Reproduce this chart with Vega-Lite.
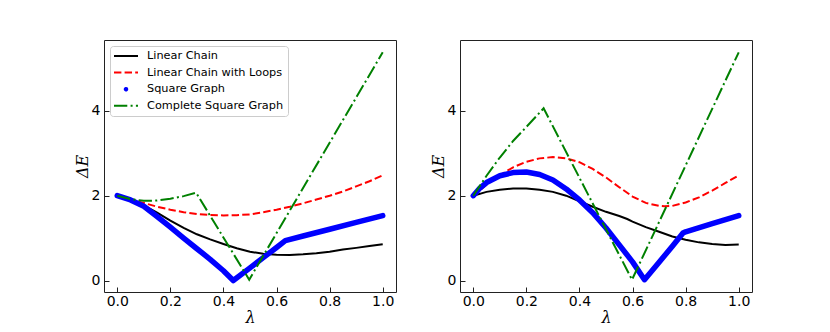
{
  "$schema": "https://vega.github.io/schema/vega-lite/v6.json",
  "padding": {"left": 73, "top": 39, "right": 0, "bottom": 0},
  "config": {
    "view": {"stroke": "#222", "strokeWidth": 1},
    "axis": {"domain": false, "grid": false, "tickSize": -5, "tickColor": "#222", "tickWidth": 1, "labelFont": "DejaVu Sans", "labelFontSize": 14, "labelColor": "#000", "labelFlush": false, "titleFont": "DejaVu Serif", "titleFontStyle": "italic", "titleFontWeight": "normal", "titleFontSize": 16, "titleColor": "#000"},
    "axisX": {"labelPadding": 7, "titlePadding": 1},
    "axisY": {"labelPadding": 9, "titlePadding": 1},
    "concat": {"spacing": 32}
  },
  "resolve": {"scale": {"color": "independent"}, "legend": {"color": "independent"}},
  "datasets": {
    "left": [
      {"lambda": 0, "dE": 2.0, "series": "Linear Chain"},
      {"lambda": 0.05, "dE": 1.9, "series": "Linear Chain"},
      {"lambda": 0.1, "dE": 1.77, "series": "Linear Chain"},
      {"lambda": 0.15, "dE": 1.6, "series": "Linear Chain"},
      {"lambda": 0.2, "dE": 1.41, "series": "Linear Chain"},
      {"lambda": 0.25, "dE": 1.24, "series": "Linear Chain"},
      {"lambda": 0.3, "dE": 1.09, "series": "Linear Chain"},
      {"lambda": 0.35, "dE": 0.97, "series": "Linear Chain"},
      {"lambda": 0.4, "dE": 0.86, "series": "Linear Chain"},
      {"lambda": 0.45, "dE": 0.76, "series": "Linear Chain"},
      {"lambda": 0.5, "dE": 0.68, "series": "Linear Chain"},
      {"lambda": 0.55, "dE": 0.63, "series": "Linear Chain"},
      {"lambda": 0.6, "dE": 0.61, "series": "Linear Chain"},
      {"lambda": 0.65, "dE": 0.605, "series": "Linear Chain"},
      {"lambda": 0.7, "dE": 0.62, "series": "Linear Chain"},
      {"lambda": 0.75, "dE": 0.645, "series": "Linear Chain"},
      {"lambda": 0.8, "dE": 0.68, "series": "Linear Chain"},
      {"lambda": 0.85, "dE": 0.73, "series": "Linear Chain"},
      {"lambda": 0.9, "dE": 0.77, "series": "Linear Chain"},
      {"lambda": 0.95, "dE": 0.815, "series": "Linear Chain"},
      {"lambda": 1.0, "dE": 0.855, "series": "Linear Chain"},
      {"lambda": 0, "dE": 2.0, "series": "Linear Chain with Loops"},
      {"lambda": 0.05, "dE": 1.91, "series": "Linear Chain with Loops"},
      {"lambda": 0.1, "dE": 1.83, "series": "Linear Chain with Loops"},
      {"lambda": 0.15, "dE": 1.74, "series": "Linear Chain with Loops"},
      {"lambda": 0.2, "dE": 1.67, "series": "Linear Chain with Loops"},
      {"lambda": 0.25, "dE": 1.61, "series": "Linear Chain with Loops"},
      {"lambda": 0.3, "dE": 1.57, "series": "Linear Chain with Loops"},
      {"lambda": 0.35, "dE": 1.545, "series": "Linear Chain with Loops"},
      {"lambda": 0.4, "dE": 1.535, "series": "Linear Chain with Loops"},
      {"lambda": 0.45, "dE": 1.54, "series": "Linear Chain with Loops"},
      {"lambda": 0.5, "dE": 1.56, "series": "Linear Chain with Loops"},
      {"lambda": 0.55, "dE": 1.61, "series": "Linear Chain with Loops"},
      {"lambda": 0.6, "dE": 1.67, "series": "Linear Chain with Loops"},
      {"lambda": 0.65, "dE": 1.74, "series": "Linear Chain with Loops"},
      {"lambda": 0.7, "dE": 1.82, "series": "Linear Chain with Loops"},
      {"lambda": 0.75, "dE": 1.91, "series": "Linear Chain with Loops"},
      {"lambda": 0.8, "dE": 2.0, "series": "Linear Chain with Loops"},
      {"lambda": 0.85, "dE": 2.1, "series": "Linear Chain with Loops"},
      {"lambda": 0.9, "dE": 2.22, "series": "Linear Chain with Loops"},
      {"lambda": 0.95, "dE": 2.34, "series": "Linear Chain with Loops"},
      {"lambda": 1.0, "dE": 2.48, "series": "Linear Chain with Loops"},
      {"lambda": 0, "dE": 2.0, "series": "Square Graph"},
      {"lambda": 0.05, "dE": 1.9, "series": "Square Graph"},
      {"lambda": 0.1, "dE": 1.75, "series": "Square Graph"},
      {"lambda": 0.15, "dE": 1.51, "series": "Square Graph"},
      {"lambda": 0.2, "dE": 1.26, "series": "Square Graph"},
      {"lambda": 0.25, "dE": 1.0, "series": "Square Graph"},
      {"lambda": 0.3, "dE": 0.75, "series": "Square Graph"},
      {"lambda": 0.35, "dE": 0.5, "series": "Square Graph"},
      {"lambda": 0.4, "dE": 0.23, "series": "Square Graph"},
      {"lambda": 0.437, "dE": 0.0, "series": "Square Graph"},
      {"lambda": 0.5, "dE": 0.3, "series": "Square Graph"},
      {"lambda": 0.55, "dE": 0.54, "series": "Square Graph"},
      {"lambda": 0.6, "dE": 0.78, "series": "Square Graph"},
      {"lambda": 0.633, "dE": 0.94, "series": "Square Graph"},
      {"lambda": 0.7, "dE": 1.05, "series": "Square Graph"},
      {"lambda": 0.8, "dE": 1.21, "series": "Square Graph"},
      {"lambda": 0.9, "dE": 1.37, "series": "Square Graph"},
      {"lambda": 1.0, "dE": 1.53, "series": "Square Graph"},
      {"lambda": 0, "dE": 2.0, "series": "Complete Square Graph"},
      {"lambda": 0.05, "dE": 1.92, "series": "Complete Square Graph"},
      {"lambda": 0.1, "dE": 1.88, "series": "Complete Square Graph"},
      {"lambda": 0.15, "dE": 1.885, "series": "Complete Square Graph"},
      {"lambda": 0.2, "dE": 1.93, "series": "Complete Square Graph"},
      {"lambda": 0.25, "dE": 1.99, "series": "Complete Square Graph"},
      {"lambda": 0.297, "dE": 2.07, "series": "Complete Square Graph"},
      {"lambda": 0.497, "dE": 0.02, "series": "Complete Square Graph"},
      {"lambda": 1.0, "dE": 5.38, "series": "Complete Square Graph"}
    ],
    "right": [
      {"lambda": 0, "dE": 2.0, "series": "Linear Chain"},
      {"lambda": 0.05, "dE": 2.09, "series": "Linear Chain"},
      {"lambda": 0.1, "dE": 2.14, "series": "Linear Chain"},
      {"lambda": 0.15, "dE": 2.17, "series": "Linear Chain"},
      {"lambda": 0.2, "dE": 2.17, "series": "Linear Chain"},
      {"lambda": 0.25, "dE": 2.14, "series": "Linear Chain"},
      {"lambda": 0.3, "dE": 2.09, "series": "Linear Chain"},
      {"lambda": 0.35, "dE": 2.0, "series": "Linear Chain"},
      {"lambda": 0.4, "dE": 1.87, "series": "Linear Chain"},
      {"lambda": 0.45, "dE": 1.74, "series": "Linear Chain"},
      {"lambda": 0.5, "dE": 1.62, "series": "Linear Chain"},
      {"lambda": 0.55, "dE": 1.52, "series": "Linear Chain"},
      {"lambda": 0.58, "dE": 1.45, "series": "Linear Chain"},
      {"lambda": 0.6, "dE": 1.39, "series": "Linear Chain"},
      {"lambda": 0.65, "dE": 1.26, "series": "Linear Chain"},
      {"lambda": 0.7, "dE": 1.15, "series": "Linear Chain"},
      {"lambda": 0.75, "dE": 1.04, "series": "Linear Chain"},
      {"lambda": 0.8, "dE": 0.96, "series": "Linear Chain"},
      {"lambda": 0.85, "dE": 0.9, "series": "Linear Chain"},
      {"lambda": 0.9, "dE": 0.86, "series": "Linear Chain"},
      {"lambda": 0.95, "dE": 0.84, "series": "Linear Chain"},
      {"lambda": 1.0, "dE": 0.85, "series": "Linear Chain"},
      {"lambda": 0, "dE": 2.0, "series": "Linear Chain with Loops"},
      {"lambda": 0.05, "dE": 2.26, "series": "Linear Chain with Loops"},
      {"lambda": 0.1, "dE": 2.48, "series": "Linear Chain with Loops"},
      {"lambda": 0.15, "dE": 2.67, "series": "Linear Chain with Loops"},
      {"lambda": 0.2, "dE": 2.8, "series": "Linear Chain with Loops"},
      {"lambda": 0.25, "dE": 2.88, "series": "Linear Chain with Loops"},
      {"lambda": 0.3, "dE": 2.91, "series": "Linear Chain with Loops"},
      {"lambda": 0.35, "dE": 2.88, "series": "Linear Chain with Loops"},
      {"lambda": 0.4, "dE": 2.79, "series": "Linear Chain with Loops"},
      {"lambda": 0.45, "dE": 2.63, "series": "Linear Chain with Loops"},
      {"lambda": 0.5, "dE": 2.43, "series": "Linear Chain with Loops"},
      {"lambda": 0.55, "dE": 2.2, "series": "Linear Chain with Loops"},
      {"lambda": 0.6, "dE": 1.98, "series": "Linear Chain with Loops"},
      {"lambda": 0.65, "dE": 1.83, "series": "Linear Chain with Loops"},
      {"lambda": 0.7, "dE": 1.76, "series": "Linear Chain with Loops"},
      {"lambda": 0.72, "dE": 1.75, "series": "Linear Chain with Loops"},
      {"lambda": 0.75, "dE": 1.76, "series": "Linear Chain with Loops"},
      {"lambda": 0.8, "dE": 1.84, "series": "Linear Chain with Loops"},
      {"lambda": 0.85, "dE": 1.96, "series": "Linear Chain with Loops"},
      {"lambda": 0.9, "dE": 2.12, "series": "Linear Chain with Loops"},
      {"lambda": 0.95, "dE": 2.3, "series": "Linear Chain with Loops"},
      {"lambda": 1.0, "dE": 2.48, "series": "Linear Chain with Loops"},
      {"lambda": 0, "dE": 2.0, "series": "Square Graph"},
      {"lambda": 0.025, "dE": 2.18, "series": "Square Graph"},
      {"lambda": 0.05, "dE": 2.31, "series": "Square Graph"},
      {"lambda": 0.1, "dE": 2.47, "series": "Square Graph"},
      {"lambda": 0.15, "dE": 2.545, "series": "Square Graph"},
      {"lambda": 0.2, "dE": 2.56, "series": "Square Graph"},
      {"lambda": 0.25, "dE": 2.5, "series": "Square Graph"},
      {"lambda": 0.3, "dE": 2.37, "series": "Square Graph"},
      {"lambda": 0.35, "dE": 2.16, "series": "Square Graph"},
      {"lambda": 0.4, "dE": 1.9, "series": "Square Graph"},
      {"lambda": 0.45, "dE": 1.6, "series": "Square Graph"},
      {"lambda": 0.5, "dE": 1.24, "series": "Square Graph"},
      {"lambda": 0.55, "dE": 0.84, "series": "Square Graph"},
      {"lambda": 0.6, "dE": 0.44, "series": "Square Graph"},
      {"lambda": 0.645, "dE": 0.02, "series": "Square Graph"},
      {"lambda": 0.7, "dE": 0.43, "series": "Square Graph"},
      {"lambda": 0.75, "dE": 0.81, "series": "Square Graph"},
      {"lambda": 0.79, "dE": 1.12, "series": "Square Graph"},
      {"lambda": 0.8, "dE": 1.15, "series": "Square Graph"},
      {"lambda": 0.9, "dE": 1.34, "series": "Square Graph"},
      {"lambda": 1.0, "dE": 1.53, "series": "Square Graph"},
      {"lambda": 0, "dE": 2.0, "series": "Complete Square Graph"},
      {"lambda": 0.05, "dE": 2.47, "series": "Complete Square Graph"},
      {"lambda": 0.1, "dE": 2.9, "series": "Complete Square Graph"},
      {"lambda": 0.15, "dE": 3.29, "series": "Complete Square Graph"},
      {"lambda": 0.2, "dE": 3.62, "series": "Complete Square Graph"},
      {"lambda": 0.265, "dE": 4.06, "series": "Complete Square Graph"},
      {"lambda": 0.598, "dE": 0.02, "series": "Complete Square Graph"},
      {"lambda": 1.0, "dE": 5.38, "series": "Complete Square Graph"}
    ]
  },
  "hconcat": [
    {
      "width": 292,
      "height": 252,
      "data": {"name": "left"},
      "encoding": {
        "x": {"field": "lambda", "type": "quantitative", "scale": {"domain": [-0.05, 1.05], "nice": false, "zero": false}, "axis": {"values": [0, 0.2, 0.4, 0.6, 0.8, 1], "format": ".1f", "title": "λ"}},
        "y": {"field": "dE", "type": "quantitative", "scale": {"domain": [-0.27, 5.67], "nice": false, "zero": false}, "axis": {"values": [0, 2, 4], "format": "d", "title": "ΔE"}},
        "color": {
          "field": "series", "type": "nominal",
          "scale": {"domain": ["Linear Chain", "Linear Chain with Loops", "Square Graph", "Complete Square Graph"], "range": ["#000000", "#ff0000", "#0000ff", "#008000"]},
          "legend": {
            "orient": "none", "legendX": 6, "legendY": 6, "title": null,
            "labelFont": "DejaVu Sans", "labelFontSize": 11.3, "labelColor": "#000",
            "symbolSize": 100, "symbolStrokeWidth": 2, "symbolOffset": 6, "labelOffset": 15, "rowPadding": 4.6,
            "padding": 4, "strokeColor": "#cccccc", "fillColor": "rgba(255,255,255,0.8)", "cornerRadius": 3,
            "encode": {
              "symbols": {
                "update": {
                  "shape": {"signal": "datum.value === 'Square Graph' ? 'M0.25,0A0.25,0.25,0,1,1,-0.25,0A0.25,0.25,0,1,1,0.25,0Z' : 'M-2.4,0H2.4'"},
                  "fill": {"signal": "datum.value === 'Square Graph' ? '#0000ff' : 'transparent'"},
                  "strokeDash": {"signal": "datum.value === 'Linear Chain with Loops' ? [7.4, 3.2] : datum.value === 'Complete Square Graph' ? [13.3, 3.3, 2, 3.3] : [1, 0]"}
                }
              }
            }
          }
        }
      },
      "layer": [
        {"transform": [{"filter": "datum.series === 'Linear Chain'"}], "mark": {"type": "line", "strokeWidth": 2, "clip": true}},
        {"transform": [{"filter": "datum.series === 'Linear Chain with Loops'"}], "mark": {"type": "line", "strokeWidth": 2, "strokeDash": [7.4, 3.2], "clip": true}},
        {"transform": [{"filter": "datum.series === 'Square Graph'"}], "mark": {"type": "line", "strokeWidth": 5.5, "strokeCap": "round", "strokeJoin": "round", "clip": true}},
        {"transform": [{"filter": "datum.series === 'Complete Square Graph'"}], "mark": {"type": "line", "strokeWidth": 2, "strokeDash": [13.3, 3.3, 2, 3.3], "clip": true}}
      ]
    },
    {
      "width": 292,
      "height": 252,
      "data": {"name": "right"},
      "encoding": {
        "x": {"field": "lambda", "type": "quantitative", "scale": {"domain": [-0.05, 1.05], "nice": false, "zero": false}, "axis": {"values": [0, 0.2, 0.4, 0.6, 0.8, 1], "format": ".1f", "title": "λ"}},
        "y": {"field": "dE", "type": "quantitative", "scale": {"domain": [-0.27, 5.67], "nice": false, "zero": false}, "axis": {"values": [0, 2, 4], "format": "d", "title": "ΔE"}},
        "color": {
          "field": "series", "type": "nominal",
          "scale": {"domain": ["Linear Chain", "Linear Chain with Loops", "Square Graph", "Complete Square Graph"], "range": ["#000000", "#ff0000", "#0000ff", "#008000"]},
          "legend": null
        }
      },
      "layer": [
        {"transform": [{"filter": "datum.series === 'Linear Chain'"}], "mark": {"type": "line", "strokeWidth": 2, "clip": true}},
        {"transform": [{"filter": "datum.series === 'Linear Chain with Loops'"}], "mark": {"type": "line", "strokeWidth": 2, "strokeDash": [7.4, 3.2], "clip": true}},
        {"transform": [{"filter": "datum.series === 'Square Graph'"}], "mark": {"type": "line", "strokeWidth": 5.5, "strokeCap": "round", "strokeJoin": "round", "clip": true}},
        {"transform": [{"filter": "datum.series === 'Complete Square Graph'"}], "mark": {"type": "line", "strokeWidth": 2, "strokeDash": [13.3, 3.3, 2, 3.3], "clip": true}}
      ]
    }
  ]
}
